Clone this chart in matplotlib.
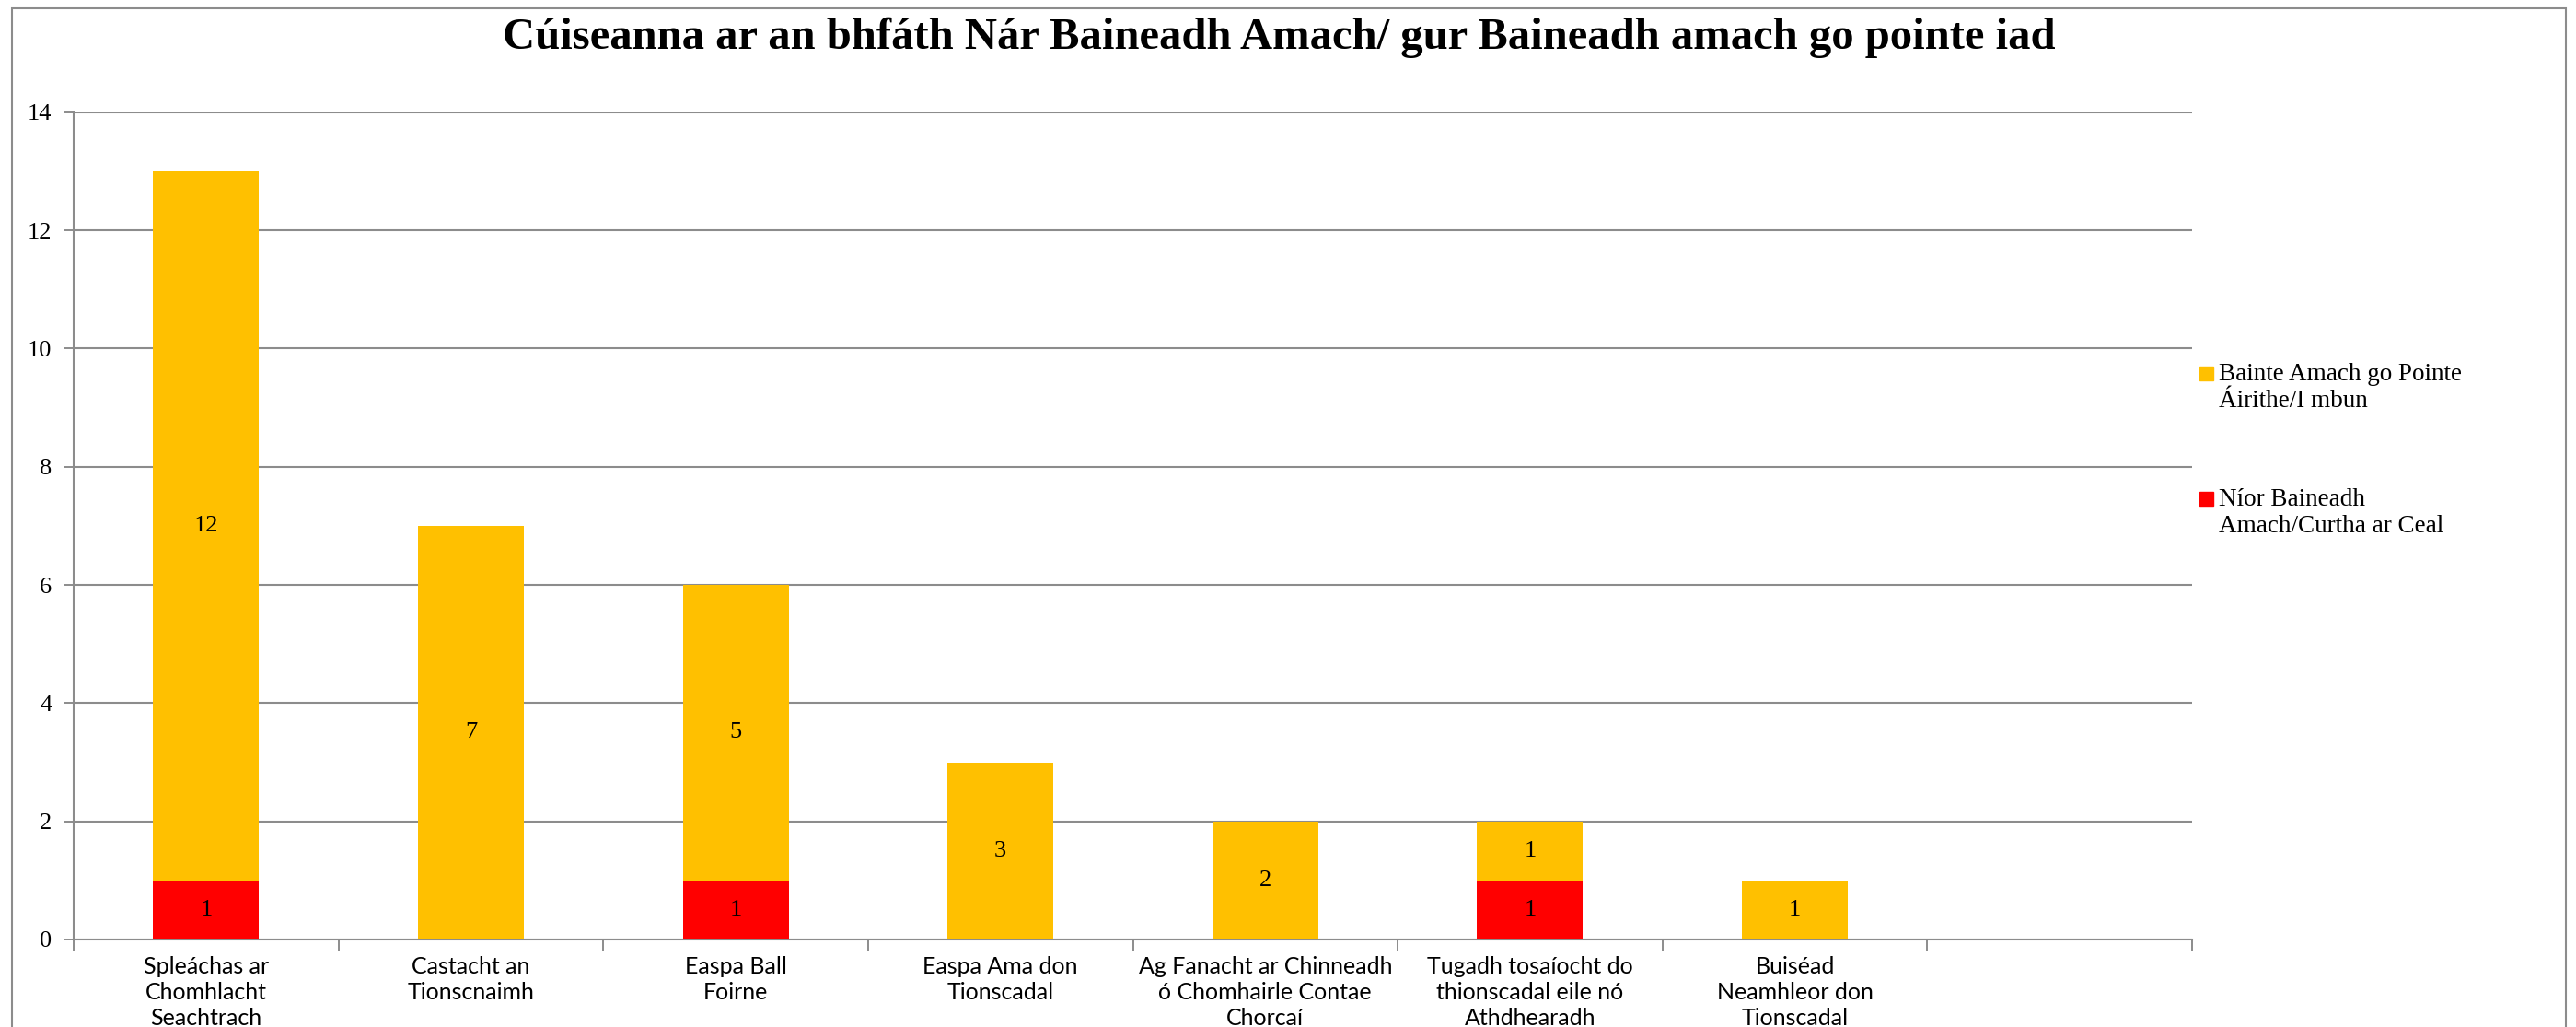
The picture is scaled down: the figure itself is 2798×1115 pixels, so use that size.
import numpy as np
import matplotlib
matplotlib.use("Agg")
import matplotlib.pyplot as plt
from matplotlib.patches import Rectangle

# reasons per category, two outcome series stacked
categories = [
    "Spleáchas ar\nChomhlacht\nSeachtrach",
    "Castacht an\nTionscnaimh",
    "Easpa Ball\nFoirne",
    "Easpa Ama don\nTionscadal",
    "Ag Fanacht ar Chinneadh\nó Chomhairle Contae\nChorcaí",
    "Tugadh tosaíocht do\nthionscadal eile nó\nAthdhearadh",
    "Buiséad\nNeamhleor don\nTionscadal",
    "",
]
not_achieved = [1, 0, 1, 0, 0, 1, 0, 0]
partly_achieved = [12, 7, 5, 3, 2, 1, 1, 0]

series_names = ["Bainte Amach go Pointe\nÁirithe/I mbun",
                "Níor Baineadh\nAmach/Curtha ar Ceal"]
series_colors = ["#FFC000", "#FF0000"]

title = "Cúiseanna ar an bhfáth Nár Baineadh Amach/ gur Baineadh amach go pointe iad"
yticks = np.arange(0, 15, 2)

W, H, DPI = 2798, 1115, 100
GRID = "#8c8c8c"

fig = plt.figure(figsize=(W / DPI, H / DPI), dpi=DPI)
fig.patches.append(Rectangle((12.5 / W, -0.05), (2787 - 12.5) / W, 1.05 - 9 / H,
                             transform=fig.transFigure, fill=False,
                             edgecolor=GRID, linewidth=1.5))

ax = fig.add_axes([80 / W, 95 / H, (2381 - 80) / W, (1020 - 121.7) / H])

x = np.arange(len(categories))
red = ax.bar(x, not_achieved, width=0.4, color=series_colors[1], zorder=3)
yel = ax.bar(x, partly_achieved, width=0.4, bottom=not_achieved,
             color=series_colors[0], zorder=3)

for bars, vals in ((red, not_achieved), (yel, partly_achieved)):
    ax.bar_label(bars, labels=[str(v) if v else "" for v in vals],
                 label_type="center", fontsize=19, family="Liberation Serif")

ax.set_xlim(-0.5, len(categories) - 0.5)
ax.set_ylim(0, 14)
ax.set_yticks(yticks)
ax.tick_params(axis="y", length=7, width=1.4, color=GRID, pad=10, labelsize=19)
for lab in ax.get_yticklabels():
    lab.set_family("Liberation Serif")

ax.set_xticks(x)
ax.set_xticklabels(categories, fontsize=18, family="Lato", linespacing=1.27)
ax.set_xticks(np.arange(-0.5, len(categories)), minor=True)
ax.tick_params(axis="x", which="major", length=0, pad=13)
ax.tick_params(axis="x", which="minor", length=9, width=1.4, color=GRID)

ax.yaxis.grid(True, color=GRID, linewidth=1.5, zorder=0)
ax.set_axisbelow(True)
for side in ("top", "right"):
    ax.spines[side].set_visible(False)
for side in ("left", "bottom"):
    ax.spines[side].set_color(GRID)
    ax.spines[side].set_linewidth(1.5)

fig.text(1389 / W, 1 - 53 / H, title, ha="center", va="baseline",
         fontsize=35, fontweight="bold", family="Liberation Serif")

# legend at the right, swatch aligned with the first line of each entry
for i, (name, col) in enumerate(zip(series_names, series_colors)):
    ytop = 1 - (397 + 136 * i) / H
    fig.patches.append(Rectangle((2389 / W, ytop - 16 / H), 15 / W, 15 / H,
                                 transform=fig.transFigure, color=col))
    fig.text(2410 / W, ytop + 3 / H, name, ha="left", va="top", fontsize=19.5,
             family="Liberation Serif", linespacing=1.2)

fig.savefig("out.png", dpi=DPI)
